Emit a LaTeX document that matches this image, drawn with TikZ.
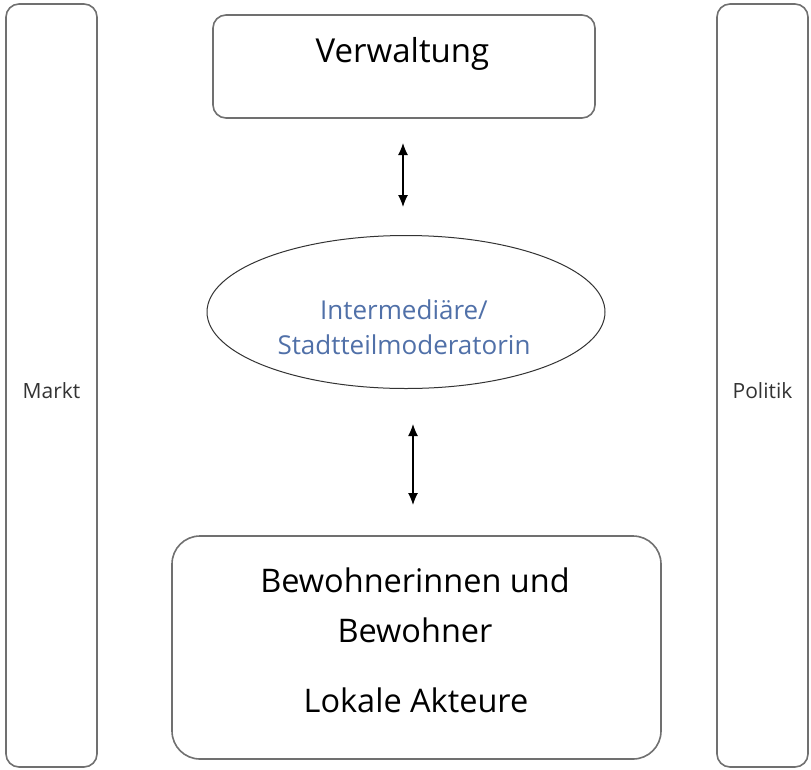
\documentclass[tikz,border=0pt]{standalone}
\usepackage{fontspec}
\setmainfont{Open Sans}
\usetikzlibrary{arrows.meta,shapes.geometric}
\definecolor{framegray}{RGB}{112,112,112}
\definecolor{interblue}{RGB}{80,112,168}

\begin{document}
\begin{tikzpicture}[%
      x=1pt, y=-1pt,
      frame/.style={draw=framegray, line width=1.6pt, rounded corners=13pt, inner sep=0pt},
      bigtext/.style={font=\fontsize{32.5}{38}\selectfont, anchor=base},
      sidetext/.style={font=\fontsize{21}{25}\selectfont, anchor=base, color=black!80},
      dblarrow/.style={line width=1.2pt, {Latex[length=12pt,width=10pt]}-{Latex[length=12pt,width=10pt]}},
      ]
      \useasboundingbox (0,0) rectangle (811,769);

      % side bars
      \node (marktbar) [frame, minimum width=91pt, minimum height=763pt] at (51.5,385.5) {};
      \node (politikbar) [frame, minimum width=91pt, minimum height=763pt] at (762.5,385.5) {};
      \node (markt) [sidetext] at (51.5,398) {Markt};
      \node (politik) [sidetext] at (762.5,398) {Politik};

      % top box
      \node (verwbox) [frame, minimum width=382pt, minimum height=103pt] at (404,66.5) {};
      \node (verw) [bigtext, font=\fontsize{33}{38}\selectfont] at (402.5,62) {Verwaltung};

      % ellipse
      \node (inter) [ellipse, draw=black!80, line width=1pt, minimum width=398pt, minimum height=153pt, inner sep=0pt] at (406,312) {};
      \node (inter1) [anchor=base, font=\fontsize{26}{30}\selectfont, color=interblue] at (404,319) {Intermediäre/};
      \node (inter2) [anchor=base, font=\fontsize{26}{30}\selectfont, color=interblue] at (404,354) {Stadtteilmoderatorin};

      % bottom box
      \node (bewbox) [frame, rounded corners=28pt, minimum width=489pt, minimum height=223pt] at (416.5,647.5) {};
      \node (bew1) [bigtext] at (415,592) {Bewohnerinnen und};
      \node (bew2) [bigtext] at (415,642) {Bewohner};
      \node (lok) [bigtext] at (416,712) {Lokale Akteure};

      % arrows
      \coordinate (a1top) at (403,143);
      \coordinate (a1bot) at (403,207);
      \coordinate (a2top) at (413,424);
      \coordinate (a2bot) at (413,505);
      \draw [dblarrow] (a1top) -- (a1bot);
      \draw [dblarrow] (a2top) -- (a2bot);
\end{tikzpicture}
\end{document}
